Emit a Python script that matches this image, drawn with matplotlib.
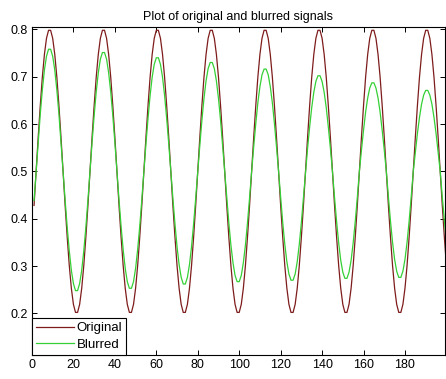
import matplotlib
matplotlib.use('Agg')
import matplotlib.pyplot as plt
import numpy as np

plt.rcParams['font.family'] = ['Liberation Sans', 'DejaVu Sans']

# sample index 1..200 (MATLAB style)
x = np.arange(1, 201)

original = [
    0.428, 0.500, 0.572, 0.639, 0.699, 0.747, 0.781, 0.798, 0.798, 0.781, 0.747, 0.699, 0.639,
    0.572, 0.500, 0.428, 0.361, 0.301, 0.253, 0.219, 0.202, 0.202, 0.219, 0.253, 0.301, 0.361,
    0.428, 0.500, 0.572, 0.639, 0.699, 0.747, 0.781, 0.798, 0.798, 0.781, 0.747, 0.699, 0.639,
    0.572, 0.500, 0.428, 0.361, 0.301, 0.253, 0.219, 0.202, 0.202, 0.219, 0.253, 0.301, 0.361,
    0.428, 0.500, 0.572, 0.639, 0.699, 0.747, 0.781, 0.798, 0.798, 0.781, 0.747, 0.699, 0.639,
    0.572, 0.500, 0.428, 0.361, 0.301, 0.253, 0.219, 0.202, 0.202, 0.219, 0.253, 0.301, 0.361,
    0.428, 0.500, 0.572, 0.639, 0.699, 0.747, 0.781, 0.798, 0.798, 0.781, 0.747, 0.699, 0.639,
    0.572, 0.500, 0.428, 0.361, 0.301, 0.253, 0.219, 0.202, 0.202, 0.219, 0.253, 0.301, 0.361,
    0.428, 0.500, 0.572, 0.639, 0.699, 0.747, 0.781, 0.798, 0.798, 0.781, 0.747, 0.699, 0.639,
    0.572, 0.500, 0.428, 0.361, 0.301, 0.253, 0.219, 0.202, 0.202, 0.219, 0.253, 0.301, 0.361,
    0.428, 0.500, 0.572, 0.639, 0.699, 0.747, 0.781, 0.798, 0.798, 0.781, 0.747, 0.699, 0.639,
    0.572, 0.500, 0.428, 0.361, 0.301, 0.253, 0.219, 0.202, 0.202, 0.219, 0.253, 0.301, 0.361,
    0.428, 0.500, 0.572, 0.639, 0.699, 0.747, 0.781, 0.798, 0.798, 0.781, 0.747, 0.699, 0.639,
    0.572, 0.500, 0.428, 0.361, 0.301, 0.253, 0.219, 0.202, 0.202, 0.219, 0.253, 0.301, 0.361,
    0.428, 0.500, 0.572, 0.639, 0.699, 0.747, 0.781, 0.798, 0.798, 0.781, 0.747, 0.699, 0.639,
    0.572, 0.500, 0.428, 0.361, 0.301,
]

blurred = [
    0.438, 0.500, 0.562, 0.621, 0.672, 0.714, 0.743, 0.758, 0.758, 0.743, 0.714, 0.672, 0.621,
    0.562, 0.500, 0.439, 0.382, 0.332, 0.291, 0.263, 0.248, 0.248, 0.263, 0.291, 0.332, 0.382,
    0.439, 0.500, 0.561, 0.618, 0.668, 0.708, 0.737, 0.751, 0.751, 0.737, 0.708, 0.668, 0.618,
    0.561, 0.500, 0.440, 0.384, 0.335, 0.295, 0.267, 0.253, 0.253, 0.267, 0.295, 0.335, 0.384,
    0.440, 0.500, 0.558, 0.612, 0.660, 0.699, 0.726, 0.740, 0.740, 0.726, 0.699, 0.660, 0.612,
    0.558, 0.500, 0.443, 0.389, 0.341, 0.303, 0.276, 0.262, 0.262, 0.276, 0.303, 0.341, 0.389,
    0.443, 0.500, 0.555, 0.608, 0.654, 0.691, 0.717, 0.730, 0.730, 0.717, 0.691, 0.654, 0.608,
    0.555, 0.500, 0.444, 0.391, 0.344, 0.307, 0.280, 0.267, 0.267, 0.280, 0.307, 0.344, 0.391,
    0.444, 0.500, 0.552, 0.601, 0.645, 0.679, 0.704, 0.716, 0.716, 0.704, 0.679, 0.645, 0.601,
    0.552, 0.500, 0.445, 0.392, 0.346, 0.309, 0.283, 0.270, 0.270, 0.283, 0.309, 0.346, 0.392,
    0.445, 0.500, 0.549, 0.594, 0.635, 0.667, 0.690, 0.702, 0.702, 0.690, 0.667, 0.635, 0.594,
    0.549, 0.500, 0.445, 0.394, 0.349, 0.312, 0.287, 0.274, 0.274, 0.287, 0.312, 0.349, 0.394,
    0.445, 0.500, 0.545, 0.587, 0.625, 0.655, 0.676, 0.687, 0.687, 0.676, 0.655, 0.625, 0.587,
    0.545, 0.500, 0.446, 0.395, 0.350, 0.314, 0.289, 0.276, 0.276, 0.289, 0.314, 0.350, 0.395,
    0.446, 0.500, 0.541, 0.580, 0.614, 0.642, 0.661, 0.671, 0.671, 0.661, 0.642, 0.614, 0.580,
    0.541, 0.500, 0.446, 0.396, 0.351,
]

xticks = [0, 20, 40, 60, 80, 100, 120, 140, 160, 180]
yticks = [0.2, 0.3, 0.4, 0.5, 0.6, 0.7, 0.8]

fig = plt.figure(figsize=(4.46, 3.79), dpi=100)
ax = fig.add_axes([0.0717, 0.0633, 0.926, 0.8655])

ax.plot(x, original, color="#7e1c1c", linewidth=0.9, label="Original")
ax.plot(x, blurred, color="#35d035", linewidth=0.9, label="Blurred")

ax.set_xlim(0, 199.3)
ax.set_ylim(0.112, 0.805)
ax.set_xticks(xticks)
ax.set_yticks(yticks)
ax.set_yticklabels([f"{v:.1f}" for v in yticks])
ax.tick_params(direction="in", length=3.5, width=0.7, top=True, right=True, labelsize=9, pad=3)
for s in ax.spines.values():
    s.set_linewidth(0.8)

ax.set_title("Plot of original and blurred signals", fontsize=9, pad=5)

leg = ax.legend(loc="lower left", borderaxespad=0, fancybox=False, framealpha=1,
                edgecolor="black", fontsize=9.5, handlelength=2.9, handletextpad=0.2,
                borderpad=0.3, labelspacing=0.35)
leg.get_frame().set_linewidth(0.8)

plt.savefig("out.png", dpi=100)
plt.close()
